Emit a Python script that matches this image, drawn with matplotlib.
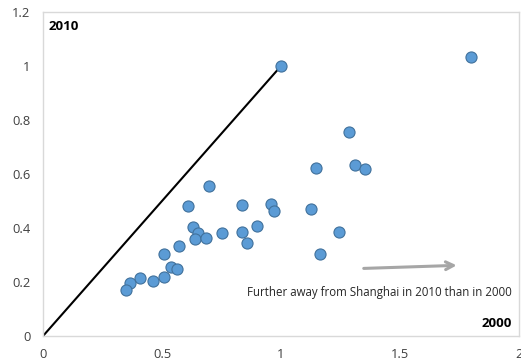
import matplotlib
matplotlib.use("Agg")
import matplotlib.pyplot as plt

# relative distance to Shanghai, 2000 (x) vs 2010 (y)
dist_2000 = [1.00, 1.80, 1.284, 1.146, 1.312, 1.353,
             0.697, 0.611, 0.835, 0.629, 0.651, 0.640, 0.686, 0.751, 0.836,
             0.856, 0.900, 0.573, 0.510, 0.538, 0.563, 0.408, 0.464, 0.508,
             0.366, 0.350, 0.957, 0.972, 1.125, 1.245, 1.163]
dist_2010 = [1.00, 1.034, 0.757, 0.621, 0.635, 0.620,
             0.556, 0.480, 0.484, 0.402, 0.380, 0.359, 0.363, 0.381, 0.386,
             0.343, 0.409, 0.334, 0.302, 0.254, 0.248, 0.216, 0.205, 0.220,
             0.196, 0.169, 0.489, 0.462, 0.469, 0.385, 0.302]

diag_x = [0, 1]
diag_y = [0, 1]
arrow_from = (1.336, 0.250)
arrow_to = (1.75, 0.262)

x_ticks = [0, 0.5, 1, 1.5, 2]
x_labels = ["0", "0.5", "1", "1.5", "2"]
y_ticks = [0, 0.2, 0.4, 0.6, 0.8, 1.0, 1.2]
y_labels = ["0", "0.2", "0.4", "0.6", "0.8", "1", "1.2"]

plt.rcParams['font.family'] = ['Open Sans', 'DejaVu Sans']

fig = plt.figure(figsize=(5.21, 3.64), dpi=100)
ax = fig.add_axes([43 / 521, 28 / 364, 476 / 521, 324 / 364])

ax.plot(diag_x, diag_y, color='black', lw=1.5, zorder=2)
ax.scatter(dist_2000, dist_2010, s=64, color='#5b9bd5', edgecolors='#41719c',
           linewidths=0.8, zorder=3)

ax.annotate('', xy=arrow_to, xytext=arrow_from,
            arrowprops=dict(arrowstyle='->', color='#a6a6a6', lw=2.2,
                            mutation_scale=14))
ax.text(1.97, 0.16, 'Further away from Shanghai in 2010 than in 2000',
        ha='right', va='center', fontsize=8.3, color='#262626')
ax.text(0.025, 1.145, '2010', ha='left', va='center', fontsize=9.5,
        fontweight='bold', color='black')
ax.text(1.97, 0.045, '2000', ha='right', va='center', fontsize=9.5,
        fontweight='bold', color='black')

ax.set_xlim(0, 2)
ax.set_ylim(0, 1.2)
ax.set_xticks(x_ticks)
ax.set_xticklabels(x_labels)
ax.set_yticks(y_ticks)
ax.set_yticklabels(y_labels)
ax.tick_params(length=0, labelsize=9.3, colors='#404040')
ax.tick_params(axis='x', pad=9)
ax.tick_params(axis='y', pad=9)
for sp in ax.spines.values():
    sp.set_color('#d9d9d9')
    sp.set_linewidth(1)

fig.savefig('out.png', dpi=100)
